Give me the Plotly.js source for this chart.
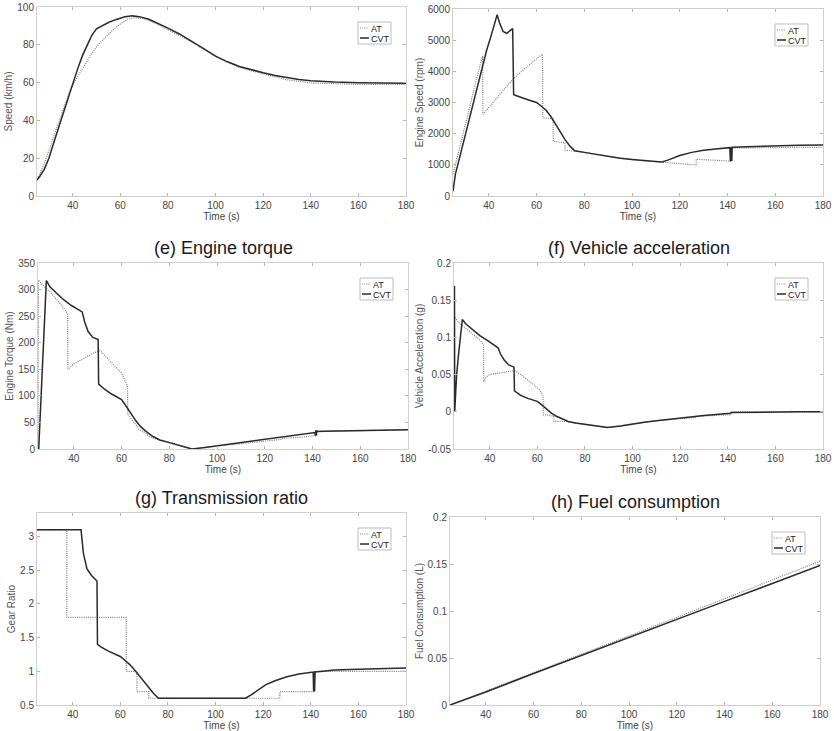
<!DOCTYPE html>
<html>
<head>
<meta charset="utf-8">
<script src="https://cdn.plot.ly/plotly-3.0.1.min.js"></script>
<style>html,body{margin:0;padding:0;background:#fff;}#chart{width:834px;height:731px;}</style>
</head>
<body>
<div id="chart"></div>
<script>
// ---------------- DATA ----------------
const seriesNames = ["AT", "CVT"];
const xTickVals = [40, 60, 80, 100, 120, 140, 160, 180];

// (a) Speed (km/h)
const speedAtT  = [25, 26, 28, 30, 32, 34, 36, 38, 39, 42, 45, 48, 51, 54, 57, 60, 63, 66, 70, 75, 80, 90, 100, 110, 120, 130, 140, 150, 160, 170, 180];
const speedAt   = [9, 11, 17, 24, 31, 38, 45, 52, 56.5, 63, 69.5, 75.5, 80.5, 84.5, 88, 91, 93.5, 94.3, 93.8, 91.3, 88, 81.5, 73.8, 68, 64.6, 61.5, 59.8, 59.2, 59, 59, 59];
const speedCvtT = [25, 26, 28, 30, 32, 34, 36, 38, 40, 42, 44, 46, 48, 50, 52, 55, 58, 62, 65, 68, 72, 76, 80, 85, 90, 95, 100, 105, 110, 115, 120, 125, 130, 135, 140, 145, 150, 160, 170, 180];
const speedCvt  = [8.5, 10, 14, 20, 28, 36, 44, 52, 60, 67, 74, 80, 85, 88.5, 90, 91.8, 93.3, 94.8, 95.3, 94.9, 93.5, 91.3, 88.8, 85.6, 82, 78, 74, 71, 68.5, 66.7, 65.2, 63.8, 62.5, 61.6, 61, 60.6, 60.3, 59.9, 59.7, 59.6];

// (b) Engine speed (rpm)
const rpmAtT  = [25, 26, 28, 30, 32, 34, 36, 37.4, 37.5, 40, 43, 46, 49, 52, 55, 58, 61, 62.5, 62.6, 66.9, 67, 71.9, 72, 76, 80, 85, 90, 95, 100, 105, 110, 112.5, 118, 122, 126.8, 126.9, 130, 135, 141.3, 141.4, 150, 160, 170, 180];
const rpmAt   = [700, 1000, 1600, 2200, 2850, 3500, 4100, 4500, 2620, 2850, 3130, 3400, 3650, 3880, 4090, 4280, 4460, 4550, 2510, 2480, 1760, 1700, 1470, 1440, 1400, 1330, 1270, 1210, 1170, 1130, 1100, 1090, 1050, 1030, 1000, 1180, 1165, 1145, 1120, 1540, 1550, 1555, 1560, 1560];
const rpmCvtT = [25, 26, 27, 29, 31, 33, 35, 37, 39, 41, 43.5, 44.5, 46, 47.5, 49, 50, 50.4, 51, 54, 57, 60, 62, 64, 66, 68, 70, 72, 74, 76, 80, 85, 90, 95, 100, 105, 110, 112.5, 115, 120, 125, 130, 135, 140, 141, 141.2, 141.35, 141.5, 141.65, 141.8, 141.95, 145, 150, 160, 170, 180];
const rpmCvt  = [150, 700, 1000, 1620, 2230, 2850, 3460, 4080, 4650, 5150, 5820, 5550, 5280, 5220, 5300, 5370, 3250, 3230, 3150, 3070, 3000, 2880, 2750, 2550, 2300, 2050, 1800, 1600, 1450, 1400, 1330, 1270, 1210, 1170, 1130, 1100, 1090, 1150, 1300, 1400, 1470, 1510, 1540, 1550, 1110, 1560, 1110, 1560, 1120, 1565, 1575, 1590, 1615, 1630, 1640];

// (e) Engine torque (Nm)
const tqAtT  = [25, 25.2, 27, 30, 33, 36, 37.4, 37.5, 40, 44, 48, 51, 54, 57, 60, 62, 62.5, 62.6, 65, 67, 67.1, 70, 72, 75, 80, 85, 89.5, 95, 100, 110, 120, 126.8, 127, 135, 141.2, 141.4, 150, 160, 170, 180];
const tqAt   = [0, 318, 308, 296, 280, 264, 254, 150, 160, 170, 180, 185, 170, 157, 143, 125, 118, 65, 52, 40, 37, 30, 22, 18, 13, 6, 0, 3, 6, 10, 14, 18, 20, 22, 25, 33, 34, 35, 35.5, 36];
const tqCvtT = [25, 25.3, 28.5, 30, 33, 36, 39, 42, 43.5, 44.5, 46, 48, 50, 50.2, 50.4, 53, 56, 60, 62, 64, 66, 68, 70, 73, 76, 80, 85, 89.5, 95, 100, 105, 110, 115, 120, 125, 130, 135, 140, 141, 141.2, 141.4, 141.6, 141.8, 142, 145, 150, 160, 170, 180];
const tqCvt  = [0, 0, 317, 305, 292, 280, 270, 262, 258, 240, 221, 210, 207, 206, 122, 112, 103, 93, 80, 66, 53, 42, 34, 24, 17, 12, 6, 0, 3, 6, 9, 12, 15, 18.5, 22, 25, 27.5, 30, 31, 25, 35, 25, 35, 33, 33.5, 34, 35, 35.5, 36];

// (f) Vehicle acceleration (g)
const accAtT  = [25.4, 27, 30, 33, 36, 37.4, 37.5, 38.5, 40, 44, 48, 50.5, 53, 56, 59, 61, 62.4, 62.5, 64, 66.9, 67, 70, 72, 76, 80, 85, 89.5, 95, 100, 110, 120, 126.8, 127, 135, 141.2, 141.4, 150, 160, 170, 180];
const accAt   = [0.127, 0.12, 0.112, 0.104, 0.096, 0.09, 0.04, 0.047, 0.05, 0.052, 0.054, 0.0555, 0.05, 0.043, 0.035, 0.029, 0.022, -0.004, -0.004, -0.006, -0.013, -0.013, -0.013, -0.015, -0.017, -0.019, -0.021, -0.019, -0.016, -0.012, -0.009, -0.0075, -0.006, -0.005, -0.004, 0, 0, 0, 0, 0];
const accCvtT = [25, 25.2, 25.3, 25.6, 26.1, 27, 28.5, 30, 33, 36, 39, 42, 43.5, 44.5, 46, 48, 50, 50.2, 50.4, 53, 56, 60, 62, 64, 66, 68, 70, 73, 76, 80, 85, 89.5, 95, 100, 105, 110, 115, 120, 125, 130, 135, 140, 141.2, 141.4, 145, 150, 160, 170, 180];
const accCvt  = [0.168, 0.168, 0, 0.03, 0.05, 0.08, 0.124, 0.118, 0.11, 0.102, 0.096, 0.09, 0.086, 0.078, 0.07, 0.063, 0.061, 0.06, 0.028, 0.022, 0.018, 0.014, 0.009, 0.003, -0.002, -0.006, -0.009, -0.013, -0.015, -0.017, -0.019, -0.021, -0.019, -0.016, -0.014, -0.012, -0.010, -0.008, -0.0065, -0.005, -0.0035, -0.0025, -0.002, -0.001, -0.0008, -0.0005, -0.0002, 0, 0];
const accTickVals = [-0.05, 0, 0.05, 0.1, 0.15, 0.2];
const accTickText = ["-0.05", "0", "0.05", "0.1", "0.15", "0.2"];

// (g) Transmission ratio
const grAtT  = [25, 37.5, 62.5, 67, 72, 127, 141.5, 180];
const grAt   = [3.1, 1.8, 1.0, 0.7, 0.6, 0.7, 1.0, 1.0];
const grCvtT = [25, 43.5, 44.5, 46, 48, 50.2, 50.4, 52, 55, 58, 60, 62, 64, 66, 68, 70, 72, 74, 76, 112.5, 115, 118, 121, 125, 130, 135, 140, 141, 141.2, 141.4, 141.6, 141.8, 142, 145, 150, 160, 170, 180];
const grCvt  = [3.1, 3.1, 2.75, 2.52, 2.42, 2.34, 1.40, 1.36, 1.30, 1.25, 1.22, 1.16, 1.1, 1.02, 0.93, 0.84, 0.75, 0.67, 0.6, 0.6, 0.65, 0.73, 0.8, 0.86, 0.92, 0.96, 0.98, 0.99, 0.7, 1.0, 0.7, 1.0, 0.99, 1.0, 1.02, 1.03, 1.04, 1.05];

// (h) Fuel consumption (L)
const fuelT   = [25, 40, 60, 80, 100, 120, 140, 160, 180];
const fuelAt  = [0, 0.0145, 0.0345, 0.054, 0.0735, 0.093, 0.113, 0.133, 0.153];
const fuelCvt = [0, 0.0138, 0.0335, 0.0528, 0.0722, 0.0912, 0.1102, 0.1292, 0.1485];

// ---------------- LAYOUT ----------------
const W = 834, H = 731;
const FONT = "Liberation Sans, Arial, Helvetica, sans-serif";
const AT_COLOR = "#7d7d7d", CVT_COLOR = "#2a2a2a";
const AT_DASH = "1px,1.2px";

const panels = [
  {box: {l: 37, r: 406, t: 7,   b: 196}, ytitle: "Speed (km/h)",          range: [0, 100],   dtick: 20,   title: null,
   at: [speedAtT, speedAt], cvt: [speedCvtT, speedCvt]},
  {box: {l: 453, r: 823, t: 9,  b: 196}, ytitle: "Engine Speed (rpm)",    range: [0, 6000],  dtick: 1000, title: null,
   at: [rpmAtT, rpmAt], cvt: [rpmCvtT, rpmCvt]},
  {box: {l: 38, r: 408, t: 263, b: 449}, ytitle: "Engine Torque (Nm)",    range: [0, 350],   dtick: 50,   title: "(e) Engine torque",
   at: [tqAtT, tqAt], cvt: [tqCvtT, tqCvt]},
  {box: {l: 454, r: 823, t: 263, b: 449}, ytitle: "Vehicle Acceleration (g)", range: [-0.05, 0.2], dtick: 0.05, title: "(f) Vehicle acceleration",
   at: [accAtT, accAt], cvt: [accCvtT, accCvt], tickvals: accTickVals, ticktext: accTickText},
  {box: {l: 37, r: 406, t: 513, b: 705}, ytitle: "Gear Ratio",            range: [0.5, 3.35], dtick: 0.5, title: "(g) Transmission ratio",
   at: [grAtT, grAt], cvt: [grCvtT, grCvt], atShape: "hv"},
  {box: {l: 450, r: 820, t: 517, b: 705}, ytitle: "Fuel Consumption (L)", range: [0, 0.2],   dtick: 0.05, title: "(h) Fuel consumption",
   at: [fuelT, fuelAt], cvt: [fuelT, fuelCvt]}
];

const data = [];
const layout = {
  width: W, height: H,
  margin: {l: 0, r: 0, t: 0, b: 0},
  paper_bgcolor: "#fff", plot_bgcolor: "#fff",
  showlegend: false,
  font: {family: FONT, size: 10, color: "#333"},
  annotations: [], shapes: []
};

panels.forEach((p, i) => {
  const n = i + 1;
  const xk = n === 1 ? "x" : "x" + n, yk = n === 1 ? "y" : "y" + n;
  const b = p.box;
  data.push({x: p.at[0], y: p.at[1], xaxis: xk, yaxis: yk, type: "scatter", mode: "lines", name: seriesNames[0],
             line: {color: AT_COLOR, width: 1.2, dash: AT_DASH, shape: p.atShape || "linear"}});
  data.push({x: p.cvt[0], y: p.cvt[1], xaxis: xk, yaxis: yk, type: "scatter", mode: "lines", name: seriesNames[1],
             line: {color: CVT_COLOR, width: 1.5}});
  const common = {
    showgrid: false, zeroline: false, showline: true, linecolor: "#cfcfcf", linewidth: 1,
    mirror: "ticks", ticks: "inside", ticklen: 3, tickcolor: "#b5b5b5", tickwidth: 1,
    tickfont: {family: FONT, size: 10, color: "#454545"}, automargin: false, fixedrange: true
  };
  layout[(n === 1 ? "xaxis" : "xaxis" + n)] = Object.assign({}, common, {
    domain: [b.l / W, b.r / W], anchor: yk, range: [25, 180], tickvals: xTickVals,
    title: {text: "Time (s)", font: {family: FONT, size: 10, color: "#444"}, standoff: 1}
  });
  const ya = Object.assign({}, common, {
    domain: [1 - b.b / H, 1 - b.t / H], anchor: xk, range: p.range, dtick: p.dtick,
    title: {text: p.ytitle, font: {family: FONT, size: 10, color: "#555"}, standoff: 2}
  });
  if (p.tickvals) { ya.tickmode = "array"; ya.tickvals = p.tickvals; ya.ticktext = p.ticktext; }
  layout[(n === 1 ? "yaxis" : "yaxis" + n)] = ya;

  if (p.title) {
    layout.annotations.push({text: p.title, xref: "paper", yref: "paper",
      x: ((b.l + b.r) / 2) / W, y: 1 - (b.t - 15) / H, xanchor: "center", yanchor: "middle",
      showarrow: false, font: {family: FONT, size: 18, color: "#1a1a1a"}});
  }
  // legend box (top-right of each panel)
  const lr = b.r - 15, ll = lr - 33, lt = b.t + 15, lb = lt + 22;
  layout.shapes.push({type: "rect", xref: "paper", yref: "paper",
    x0: ll / W, x1: lr / W, y0: 1 - lb / H, y1: 1 - lt / H,
    line: {color: "#bdbdbd", width: 1}, fillcolor: "#fff"});
  [[seriesNames[0], AT_COLOR, AT_DASH, lt + 6], [seriesNames[1], CVT_COLOR, "solid", lt + 16]].forEach(e => {
    layout.shapes.push({type: "line", xref: "paper", yref: "paper",
      x0: (ll + 2) / W, x1: (ll + 11) / W, y0: 1 - e[3] / H, y1: 1 - e[3] / H,
      line: {color: e[1], width: e[2] === "solid" ? 1.5 : 1.2, dash: e[2]}});
    layout.annotations.push({text: e[0], xref: "paper", yref: "paper",
      x: (ll + 11.5) / W, y: 1 - e[3] / H, xanchor: "left", yanchor: "middle", showarrow: false,
      height: 9, borderpad: 0, font: {family: FONT, size: 9, color: "#222"}});
  });
});

Plotly.newPlot("chart", data, layout, {displayModeBar: false, staticPlot: true});
</script>
</body>
</html>
